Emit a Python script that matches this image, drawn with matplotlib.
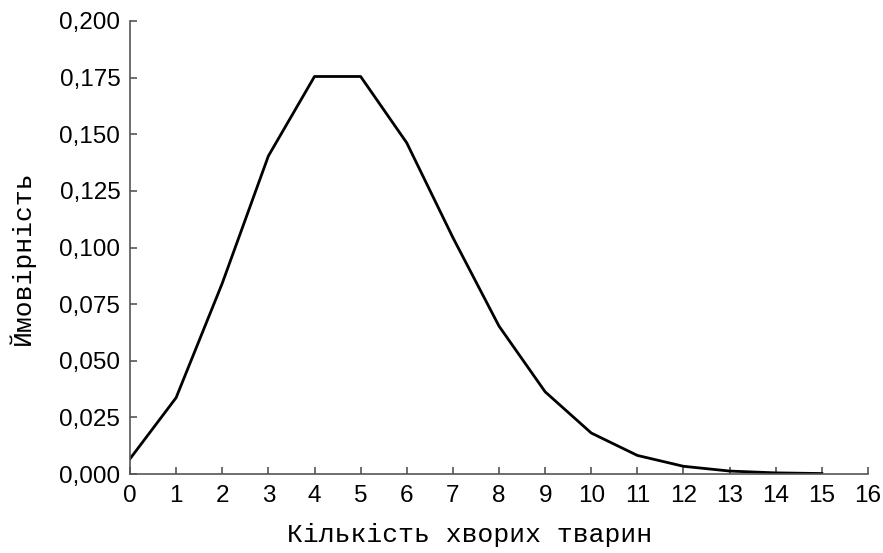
import matplotlib
matplotlib.use("Agg")
import matplotlib.pyplot as plt
from matplotlib.ticker import FuncFormatter

# кількість хворих тварин та ймовірність
counts = [0, 1, 2, 3, 4, 5, 6, 7, 8, 9, 10, 11, 12, 13, 14, 15]
probs = [0.0067, 0.0337, 0.0842, 0.1404, 0.1755, 0.1755, 0.1462, 0.1044,
         0.0653, 0.0363, 0.0181, 0.0082, 0.0034, 0.0013, 0.0005, 0.0002]
x_ticks = list(range(0, 17))
y_ticks = [0.0, 0.025, 0.05, 0.075, 0.1, 0.125, 0.15, 0.175, 0.2]

fig = plt.figure(figsize=(8.83, 5.53), dpi=100)
ax = fig.add_axes([130 / 883, 1 - 474 / 553, (868 - 130) / 883, (474 - 21) / 553])

ax.plot(counts, probs, color="black", lw=2)

ax.set_xlim(0, 16)
ax.set_ylim(0, 0.2)
ax.set_xticks(x_ticks)
ax.set_yticks(y_ticks)
ax.yaxis.set_major_formatter(FuncFormatter(lambda v, p: f"{v:.3f}".replace(".", ",")))

for s in ["top", "right"]:
    ax.spines[s].set_visible(False)
for s in ["left", "bottom"]:
    ax.spines[s].set_color("#555555")
    ax.spines[s].set_linewidth(1.2)

ax.tick_params(direction="in", length=5, width=1.2, color="#555555",
               labelsize=17.5)
ax.tick_params(axis="x", pad=8)
ax.tick_params(axis="y", pad=7)
for lab in ax.get_xticklabels() + ax.get_yticklabels():
    lab.set_family("Liberation Sans")

fig.text(470 / 883, 1 - 535 / 553, "Кількість хворих тварин", ha="center", va="center",
         family="Liberation Mono", fontsize=19)
fig.text(22 / 883, 1 - 258 / 553, "Ймовірність", ha="center", va="center",
         rotation=90, family="Liberation Mono", fontsize=19)

plt.savefig("out.png", dpi=100)
